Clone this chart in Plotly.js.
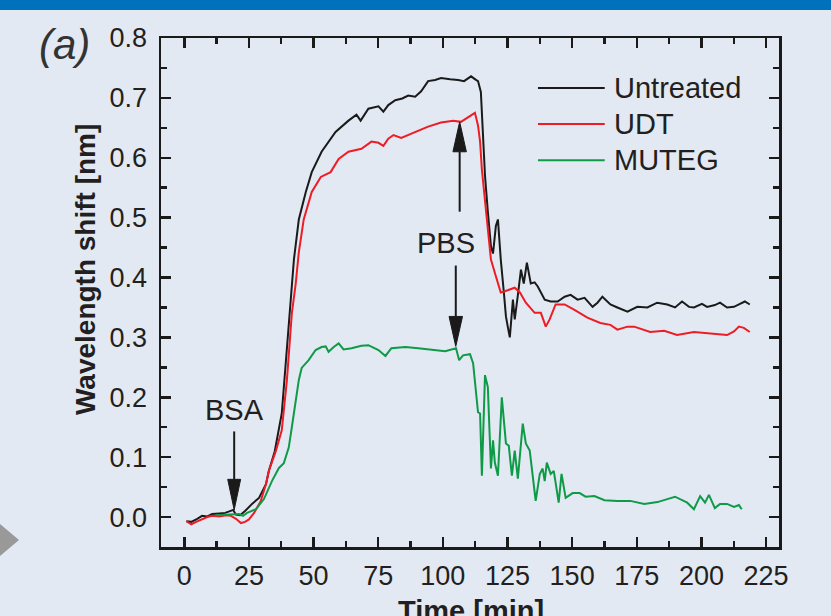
<!DOCTYPE html>
<html>
<head>
<meta charset="utf-8">
<script src="https://cdn.plot.ly/plotly-3.0.1.min.js"></script>
<style>
html,body{margin:0;padding:0;background:#e2e9f2;}
#chart{width:831px;height:616px;}
</style>
</head>
<body>
<div id="chart"></div>
<script>
// Untreated
const untreatedT = [0.8,2.7,5.0,6.9,8.9,10.8,13.5,15.8,17.7,18.9,20.0,21.6,23.5,26.2,28.9,31.6,32.7,35.0,37.7,39.7,41.6,42.4,44.3,47.0,49.3,53.1,58.5,63.5,66.6,68.2,71.2,75.1,77.0,78.9,81.6,84.3,86.6,89.3,91.6,94.3,97.0,99.3,102.8,105.9,108.2,110.9,112.8,113.6,114.7,115.5,116.3,117.4,118.6,119.4,120.5,121.3,122.4,123.6,124.4,125.1,125.9,127.1,127.8,129.0,130.2,131.3,132.5,134.0,135.5,136.7,139.4,141.7,144.4,147.1,149.4,152.1,154.8,157.9,159.8,161.7,164.8,167.5,171.4,175.2,179.1,182.9,186.8,189.8,192.5,195.2,197.1,200.2,202.2,205.2,207.2,209.9,212.6,214.9,216.8,218.7];
const untreatedV = [-0.007,-0.008,-0.003,0.002,0.001,0.005,0.006,0.007,0.010,0.012,0.004,0.003,0.010,0.022,0.032,0.055,0.077,0.110,0.173,0.284,0.380,0.430,0.497,0.543,0.576,0.610,0.643,0.662,0.672,0.662,0.682,0.686,0.677,0.688,0.696,0.699,0.704,0.702,0.711,0.728,0.730,0.733,0.731,0.730,0.728,0.736,0.730,0.728,0.710,0.627,0.570,0.510,0.452,0.440,0.486,0.497,0.430,0.375,0.335,0.318,0.300,0.363,0.330,0.370,0.413,0.390,0.425,0.390,0.392,0.385,0.363,0.360,0.360,0.368,0.371,0.363,0.366,0.351,0.358,0.368,0.355,0.350,0.343,0.351,0.350,0.358,0.355,0.350,0.360,0.351,0.350,0.356,0.351,0.354,0.358,0.350,0.351,0.356,0.360,0.355];
// UDT
const udtT = [0.8,2.7,4.6,6.9,8.9,10.8,13.5,16.2,18.1,20.0,21.9,23.5,25.0,27.0,29.6,31.6,32.7,35.4,37.7,39.7,41.6,43.1,44.3,46.2,49.3,52.8,56.6,59.7,63.5,68.5,72.4,75.1,77.0,78.9,80.9,83.9,86.6,89.3,94.3,99.3,104.0,107.0,109.7,112.4,113.6,114.4,115.1,116.3,117.4,118.6,120.5,122.4,124.0,125.9,127.8,129.8,132.1,135.5,137.9,139.8,141.3,143.6,147.1,150.9,155.9,160.9,164.8,167.5,171.4,174.0,180.2,185.6,190.6,197.1,203.3,209.9,212.6,214.5,216.4,218.7];
const udtV = [-0.007,-0.012,-0.008,-0.003,0.000,0.002,0.001,0.003,0.002,-0.003,-0.010,-0.008,-0.004,0.007,0.027,0.055,0.077,0.110,0.145,0.229,0.340,0.390,0.442,0.497,0.543,0.568,0.576,0.598,0.610,0.615,0.627,0.625,0.620,0.632,0.638,0.633,0.638,0.642,0.652,0.659,0.662,0.660,0.668,0.675,0.654,0.627,0.580,0.526,0.476,0.430,0.402,0.375,0.377,0.380,0.383,0.375,0.358,0.341,0.341,0.318,0.330,0.355,0.355,0.346,0.333,0.324,0.321,0.313,0.318,0.318,0.309,0.311,0.304,0.309,0.307,0.304,0.310,0.318,0.316,0.309];
// MUTEG
const mutegT = [12.3,15.4,18.5,21.2,22.7,24.3,27.7,30.8,33.9,36.6,38.5,40.4,41.6,43.1,44.3,45.4,48.1,50.8,53.1,54.7,55.8,57.8,59.7,61.6,64.7,68.5,71.2,75.1,77.8,80.1,85.5,90.5,95.5,100.9,105.1,106.3,107.8,110.5,111.7,112.4,113.6,114.4,115.1,116.3,117.4,118.6,119.4,120.1,121.3,122.8,124.4,125.5,126.7,127.8,129.0,130.9,132.1,133.6,135.9,137.5,138.6,139.4,140.2,141.7,142.9,144.8,145.9,147.5,150.2,152.9,155.2,158.6,162.5,167.5,172.5,177.9,183.0,186.8,189.8,194.5,197.1,199.5,201.4,202.9,205.2,207.2,209.9,212.6,214.5,215.6];
const mutegV = [0.003,0.004,0.005,0.005,0.002,0.007,0.013,0.030,0.060,0.082,0.090,0.116,0.150,0.195,0.229,0.249,0.262,0.279,0.284,0.285,0.276,0.284,0.290,0.280,0.282,0.286,0.287,0.279,0.269,0.282,0.284,0.282,0.279,0.277,0.282,0.262,0.270,0.272,0.257,0.224,0.175,0.173,0.069,0.237,0.217,0.081,0.128,0.091,0.069,0.200,0.123,0.119,0.069,0.111,0.064,0.156,0.123,0.111,0.027,0.072,0.081,0.060,0.091,0.072,0.077,0.024,0.072,0.032,0.040,0.040,0.034,0.035,0.028,0.027,0.027,0.022,0.025,0.030,0.034,0.024,0.013,0.035,0.024,0.037,0.015,0.022,0.022,0.017,0.020,0.013];

const seriesNames = ['Untreated','UDT','MUTEG'];
const seriesColors = ['#1a1a1a','#ee1c25','#0f9a48'];
const xTicks = [0,25,50,75,100,125,150,175,200,225];
const yTicks = [0.0,0.1,0.2,0.3,0.4,0.5,0.6,0.7,0.8];
const xTitle = 'Time [min]';
const yTitle = 'Wavelength shift [nm]';

const bg = '#e2e9f2';
const txt = '#231f20';
const font = 'Liberation Sans, Arial, Helvetica, sans-serif';

const data = [
  {x: untreatedT, y: untreatedV, name: seriesNames[0]},
  {x: udtT, y: udtV, name: seriesNames[1]},
  {x: mutegT, y: mutegV, name: seriesNames[2]}
].map((d,i)=>Object.assign(d,{type:'scatter',mode:'lines',line:{color:seriesColors[i],width:2},showlegend:false}));

// custom legend (paper coords)
const legY = [0.902,0.831,0.760];
const shapes = [];
const annotations = [];
seriesNames.forEach((n,i)=>{
  shapes.push({type:'line',xref:'paper',yref:'paper',x0:0.610,x1:0.718,y0:legY[i],y1:legY[i],line:{color:seriesColors[i],width:2}});
  annotations.push({xref:'paper',yref:'paper',x:0.729,y:legY[i],xanchor:'left',yanchor:'middle',text:n,showarrow:false,font:{family:font,size:29,color:txt}});
});
// arrows (BSA, PBS)
function arrowShape(x, yTail, yBase, yTip, hw){
  shapes.push({type:'line',xref:'x',yref:'y',x0:x,x1:x,y0:yTail,y1:yBase,line:{color:'#1a1a1a',width:2}});
  shapes.push({type:'path',xref:'x',yref:'y',path:`M ${x-hw} ${yBase} L ${x+hw} ${yBase} L ${x} ${yTip} Z`,fillcolor:'#1a1a1a',line:{color:'#1a1a1a',width:1}});
}
arrowShape(19.3, 0.143, 0.063, 0.012, 2.5);
arrowShape(106.5, 0.510, 0.610, 0.660, 2.6);
arrowShape(105.0, 0.420, 0.335, 0.285, 2.6);
annotations.push({xref:'x',yref:'y',x:19.3,y:0.178,xanchor:'center',yanchor:'middle',text:'BSA',showarrow:false,font:{family:font,size:29,color:txt}});
annotations.push({xref:'x',yref:'y',x:101.2,y:0.458,xanchor:'center',yanchor:'middle',text:'PBS',showarrow:false,font:{family:font,size:29,color:txt}});
annotations.push({xref:'paper',yref:'paper',x:-0.156,y:0.988,xanchor:'center',yanchor:'middle',text:'<i>(a)</i>',showarrow:false,font:{family:font,size:42,color:'#333'}});
// axis titles placed as in the reference (x title runs off the bottom edge, as there)
annotations.push({xref:'paper',yref:'paper',x:0.502,y:-0.126,xanchor:'center',yanchor:'middle',text:'<b>'+xTitle+'</b>',showarrow:false,font:{family:font,size:29,color:txt}});
annotations.push({xref:'paper',yref:'paper',x:-0.123,y:0.546,xanchor:'center',yanchor:'middle',textangle:-90,text:'<b>'+yTitle+'</b>',showarrow:false,font:{family:font,size:28,color:txt}});
// decorations
shapes.push({type:'rect',xref:'paper',yref:'paper',x0:-0.27,x1:1.09,y0:1.055,y1:1.09,fillcolor:'#0072bc',line:{width:0},layer:'below'});
shapes.push({type:'path',xref:'paper',yref:'paper',path:'M -0.2605 0.0452 L -0.2298 0.0138 L -0.2605 -0.0177 Z',fillcolor:'#999999',line:{width:0}});

const axisCommon = {
  showline:true, linecolor:'#1a1a1a', linewidth:2.5, mirror:'allticks',
  ticks:'inside', ticklen:10, tickwidth:2.5, tickcolor:'#1a1a1a',
  showgrid:false, zeroline:false,
  tickfont:{family:font,size:27,color:txt}
};
const layout = {
  width:831, height:616,
  margin:{l:161,r:52,t:38,b:69},
  paper_bgcolor:bg, plot_bgcolor:bg,
  font:{family:font,color:txt},
  xaxis:Object.assign({},axisCommon,{
    range:[-9,230], tickvals:xTicks, ticktext:xTicks.map(String), ticklabelstandoff:3,
    minor:{dtick:12.5,tick0:0,ticks:'inside',ticklen:6,tickwidth:2.5,tickcolor:'#1a1a1a'}
  }),
  yaxis:Object.assign({},axisCommon,{
    range:[-0.05,0.8], tickvals:yTicks, ticktext:yTicks.map(v=>v.toFixed(1)), ticklabelstandoff:6,
    minor:{dtick:0.05,tick0:0,ticks:'inside',ticklen:6,tickwidth:2.5,tickcolor:'#1a1a1a'}
  }),
  shapes:shapes, annotations:annotations, showlegend:false
};
Plotly.newPlot('chart', data, layout, {displayModeBar:false, staticPlot:true});
</script>
</body>
</html>
